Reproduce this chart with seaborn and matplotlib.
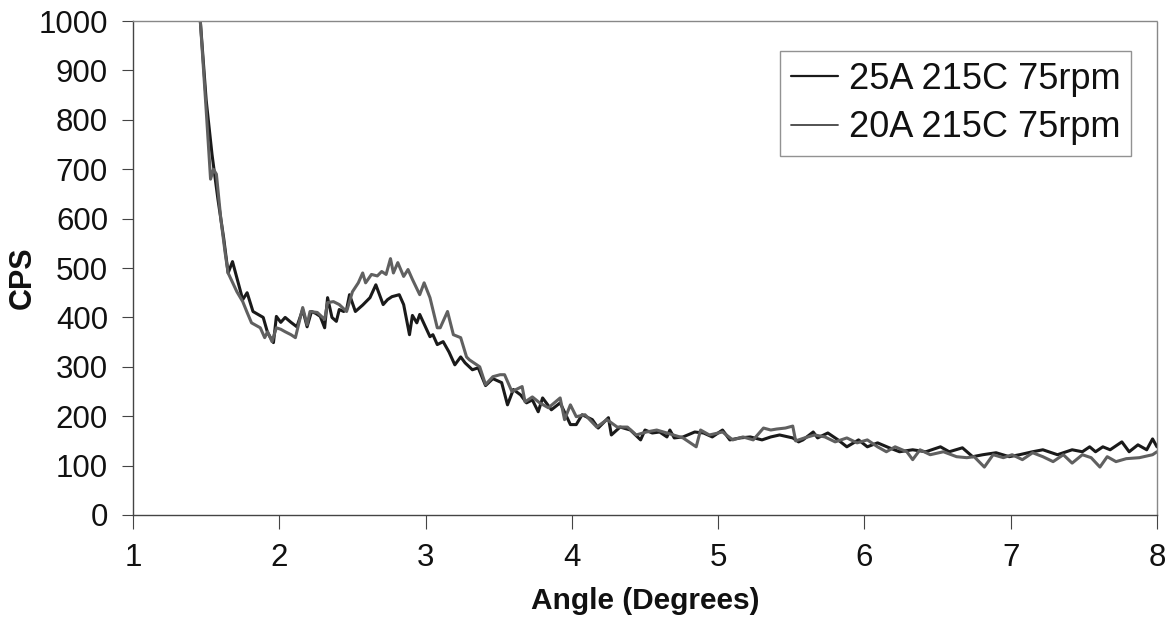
import numpy as np
import pandas as pd
import matplotlib
matplotlib.use("Agg")
import matplotlib.pyplot as plt
import seaborn as sns
from matplotlib.lines import Line2D

# ---- data ----
series_names = ["25A 215C 75rpm", "20A 215C 75rpm"]

x25 = [1.44, 1.46, 1.50, 1.54, 1.58, 1.62, 1.65, 1.68, 1.71, 1.75, 1.78, 1.82, 1.86, 1.89, 1.92,
       1.96, 1.98, 2.01, 2.04, 2.08, 2.12, 2.16, 2.19, 2.22, 2.25, 2.28, 2.31, 2.33, 2.36, 2.39,
       2.41, 2.44, 2.46, 2.48, 2.52, 2.57, 2.62, 2.66, 2.71, 2.74, 2.77, 2.82, 2.85, 2.89, 2.91,
       2.94, 2.96, 3.00, 3.03, 3.05, 3.08, 3.12, 3.16, 3.20, 3.24, 3.27, 3.32, 3.36, 3.41, 3.46,
       3.52, 3.56, 3.60, 3.65, 3.69, 3.73, 3.77, 3.80, 3.86, 3.92, 3.99, 4.03, 4.07, 4.14, 4.18,
       4.25, 4.27, 4.33, 4.40, 4.47, 4.50, 4.55, 4.60, 4.65, 4.67, 4.70, 4.76, 4.84, 4.90, 4.96,
       5.03, 5.08, 5.15, 5.22, 5.30, 5.36, 5.42, 5.51, 5.55, 5.58, 5.65, 5.68, 5.75, 5.82, 5.88,
       5.96, 6.02, 6.09, 6.17, 6.24, 6.33, 6.42, 6.52, 6.58, 6.67, 6.74, 6.81, 6.90, 6.99, 7.06,
       7.15, 7.22, 7.32, 7.38, 7.42, 7.49, 7.54, 7.58, 7.63, 7.68, 7.76, 7.81, 7.87, 7.93, 7.97, 8.00]
y25 = [1100, 1000, 840, 730, 640, 560, 490, 513, 480, 436, 450, 412, 405, 400, 369,
       349, 402, 390, 400, 390, 381, 416, 381, 412, 408, 402, 379, 440, 400, 392,
       416, 412, 416, 446, 412, 425, 440, 466, 426, 436, 442, 446, 426, 365, 404,
       389, 406, 380, 361, 365, 345, 351, 330, 304, 320, 308, 294, 298, 262, 276,
       268, 223, 254, 243, 227, 233, 209, 237, 213, 227, 183, 183, 203, 193, 176,
       197, 162, 178, 172, 152, 172, 166, 168, 158, 172, 156, 158, 168, 166, 158,
       172, 152, 156, 158, 152, 158, 162, 156, 148, 152, 168, 156, 166, 152, 138,
       152, 138, 146, 136, 128, 132, 128, 138, 128, 136, 118, 122, 126, 118, 122,
       128, 132, 122, 128, 132, 128, 138, 128, 138, 132, 148, 128, 142, 132, 154, 138]

x20 = [1.44, 1.46, 1.50, 1.53, 1.55, 1.57, 1.60, 1.63, 1.65, 1.71, 1.75, 1.78, 1.81, 1.84, 1.87,
       1.90, 1.92, 1.95, 1.98, 2.01, 2.04, 2.08, 2.11, 2.16, 2.19, 2.21, 2.26, 2.31, 2.33, 2.37,
       2.41, 2.46, 2.50, 2.54, 2.57, 2.59, 2.63, 2.67, 2.70, 2.73, 2.76, 2.78, 2.81, 2.85, 2.88,
       2.91, 2.96, 2.99, 3.03, 3.08, 3.10, 3.15, 3.19, 3.24, 3.28, 3.30, 3.37, 3.41, 3.46, 3.51,
       3.54, 3.59, 3.66, 3.68, 3.73, 3.78, 3.84, 3.92, 3.95, 3.99, 4.03, 4.09, 4.17, 4.24, 4.31,
       4.38, 4.44, 4.51, 4.58, 4.65, 4.76, 4.85, 4.88, 4.94, 5.03, 5.10, 5.17, 5.24, 5.31, 5.36,
       5.40, 5.46, 5.51, 5.53, 5.59, 5.66, 5.73, 5.80, 5.88, 5.95, 6.02, 6.09, 6.15, 6.21, 6.29,
       6.33, 6.38, 6.45, 6.54, 6.63, 6.70, 6.75, 6.82, 6.88, 6.95, 7.01, 7.08, 7.15, 7.22, 7.29,
       7.36, 7.42, 7.49, 7.55, 7.61, 7.66, 7.72, 7.79, 7.88, 7.97, 8.00]
y20 = [1100, 1000, 820, 680, 700, 690, 600, 530, 490, 452, 432, 410, 389, 384, 379,
       359, 371, 351, 379, 376, 371, 365, 359, 420, 385, 412, 410, 396, 430, 432,
       426, 412, 452, 470, 490, 470, 487, 484, 493, 487, 519, 490, 511, 483, 497,
       477, 446, 470, 440, 379, 379, 412, 365, 359, 320, 314, 300, 264, 280, 284,
       284, 250, 260, 229, 239, 227, 217, 237, 193, 223, 199, 203, 178, 193, 178,
       178, 162, 168, 172, 166, 156, 138, 172, 162, 168, 152, 158, 152, 176, 172,
       174, 176, 180, 150, 156, 162, 158, 148, 156, 146, 152, 138, 128, 138, 128,
       112, 132, 122, 128, 118, 116, 118, 97, 122, 116, 122, 112, 126, 118, 108,
       122, 105, 122, 116, 97, 118, 108, 114, 116, 122, 128]

x_ticks = [1, 2, 3, 4, 5, 6, 7, 8]
y_ticks = [0, 100, 200, 300, 400, 500, 600, 700, 800, 900, 1000]

df = pd.concat([
    pd.DataFrame({"Angle": x25, "CPS": y25, "series": series_names[0]}),
    pd.DataFrame({"Angle": x20, "CPS": y20, "series": series_names[1]}),
], ignore_index=True)

# ---- plot ----
sns.set_style("white")
plt.rcParams["font.family"] = ["Liberation Sans", "DejaVu Sans"]

fig = plt.figure(figsize=(11.69, 6.20), dpi=100)
ax = fig.add_axes([0.1138, 0.1694, 0.8759, 0.7966])

palette = {series_names[0]: "#1a1a1a", series_names[1]: "#606060"}
sns.lineplot(data=df, x="Angle", y="CPS", hue="series", palette=palette,
             estimator=None, sort=False, linewidth=2.2, ax=ax, legend=False)

ax.set_xlim(1, 8)
ax.set_ylim(0, 1000)
ax.set_xticks(x_ticks)
ax.set_yticks(y_ticks)
ax.set_xticklabels([str(v) for v in x_ticks])
ax.set_yticklabels([str(v) for v in y_ticks])
ax.tick_params(axis="x", direction="out", length=10, width=0.8, color="#444444",
               labelsize=22.5, pad=10, bottom=True, labelcolor="#111111")
ax.tick_params(axis="y", direction="out", length=8, width=0.8, color="#444444",
               labelsize=22.5, pad=10, left=True, labelcolor="#111111")

ax.set_xlabel("Angle (Degrees)", fontsize=21.5, fontweight="bold", labelpad=10,
              color="#111111")
ax.set_ylabel("CPS", fontsize=22, fontweight="bold", color="#111111", va="center")
ax.yaxis.set_label_coords(-0.108, 0.48)

for side in ["left", "bottom"]:
    ax.spines[side].set_color("#444444")
    ax.spines[side].set_linewidth(1.0)
for side in ["top", "right"]:
    ax.spines[side].set_color("#888888")
    ax.spines[side].set_linewidth(1.0)
    ax.spines[side].set_linestyle((0, (1, 1)))

# legend
handles = [Line2D([0], [0], color=palette[series_names[0]], lw=1.6),
           Line2D([0], [0], color="#444444", lw=1.3)]
leg = ax.legend(handles, series_names, loc="upper right", bbox_to_anchor=(0.975, 0.94),
                fontsize=26, frameon=True, fancybox=False, handlelength=1.3,
                handletextpad=0.3, borderpad=0.3, labelspacing=0.38,
                borderaxespad=0.0)
leg.get_frame().set_edgecolor("#777777")
leg.get_frame().set_linewidth(1.0)
for t in leg.get_texts():
    t.set_color("#111111")

fig.savefig("out.png", dpi=100)
